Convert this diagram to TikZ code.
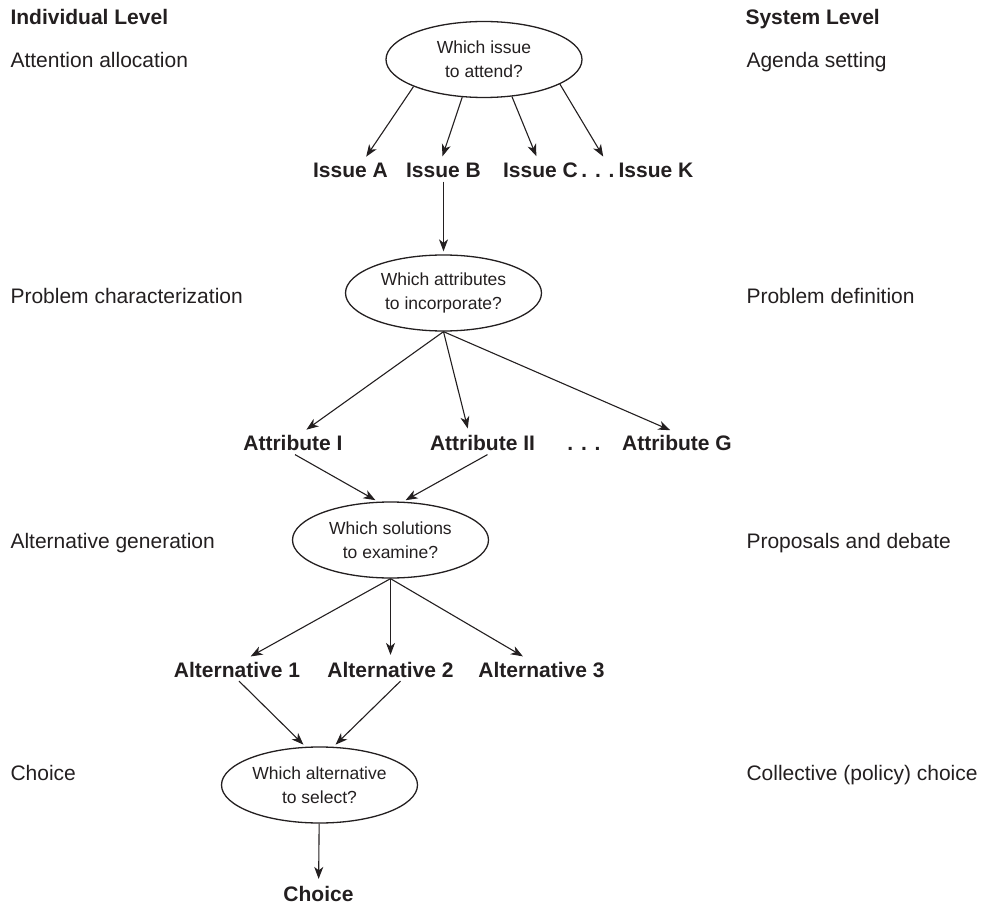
\documentclass[tikz,border=0pt]{standalone}
\usepackage{fontspec}
\setmainfont{Liberation Sans}
\usetikzlibrary{arrows.meta,shapes.geometric,positioning}
\definecolor{ink}{RGB}{35,31,32}

\begin{document}
\begin{tikzpicture}[x=1pt,y=-1pt,>={Stealth[length=12pt,width=9pt,inset=3.5pt]},shorten >=3pt,line width=1.1pt,draw=ink,text=ink,
	question/.style={ellipse,draw,line width=1.3pt,minimum width=196pt,minimum height=76pt,inner sep=0pt,align=center,font=\fontsize{17.5}{24}\selectfont},
	item/.style={font=\fontsize{21}{25}\selectfont\bfseries,anchor=base},
	level/.style={font=\fontsize{21}{25}\selectfont,anchor=base west,inner sep=0pt}]
			\useasboundingbox (0,0) rectangle (986,904);
			% levels
			\node[level] (l_ind) at (10,25) {\bfseries Individual Level};
			\node[level] (l_sys) at (745,25) {\bfseries System Level};
			\node[level] (l_att) at (10,68) {Attention allocation};
			\node[level] (l_age) at (746,68) {Agenda setting};
			\node[level] (l_pch) at (10,304) {Problem characterization};
			\node[level] (l_pdf) at (746,304) {Problem definition};
			\node[level] (l_alt) at (10,548) {Alternative generation};
			\node[level] (l_pro) at (746,548) {Proposals and debate};
			\node[level] (l_cho) at (10,780) {Choice};
			\node[level] (l_col) at (746,780) {Collective (policy) choice};
			% questions
			\node[question] (q_1) at (484,59.5) {Which issue\\to attend?};
			\node[question] (q_2) at (443.5,293) {Which attributes\\to incorporate?};
			\node[question] (q_3) at (390.5,540) {Which solutions\\to examine?};
			\node[question] (q_4) at (319.5,785) {Which alternative\\to select?};
			% answers
			\node[item] (is_a) at (350.5,177.5) {Issue A};
			\node[item] (is_b) at (443.5,177.5) {Issue B};
			\node[item] (is_c) at (540.5,177.5) {Issue C};
			\node[item] (is_d) at (598,177.5) {. . .};
			\node[item] (is_k) at (656,177.5) {Issue K};
			\node[item] (at_1) at (293,450.5) {Attribute I};
			\node[item] (at_2) at (482.5,450.5) {Attribute II};
			\node[item] (at_d) at (584,450.5) {. . .};
			\node[item] (at_g) at (677,450.5) {Attribute G};
			\node[item] (al_1) at (237,677) {Alternative 1};
			\node[item] (al_2) at (390.5,677) {Alternative 2};
			\node[item] (al_3) at (541.5,677) {Alternative 3};
			\node[item] (ch) at (318.5,901) {Choice};
			\path[->]
				(q_1.201) edge ([xshift=14pt]is_a.north)
				(q_1.240) edge ([xshift=-2pt]is_b.north)
				(q_1.307) edge ([xshift=-3pt]is_c.north)
				(q_1.342) edge ([xshift=-10pt]is_k.north west)
				(is_b) edge (q_2)
				(q_2.south) edge ([xshift=11pt]at_1.north)
				(q_2.south) edge ([xshift=-14pt]at_2.north)
				(q_2.south) edge ([xshift=-4pt]at_g.north)
				([xshift=2pt]at_1.south) edge (q_3.108)
				([xshift=5pt]at_2.south) edge (q_3.72)
				(q_3.south) edge ([xshift=11pt]al_1.north)
				(q_3.south) edge (al_2.north)
				(q_3.south) edge ([xshift=-16pt]al_3.north)
				([xshift=2pt]al_1.south) edge (q_4.110)
				([xshift=10pt]al_2.south) edge (q_4.70)
				(q_4) edge (ch);
		\end{tikzpicture}
\end{document}
